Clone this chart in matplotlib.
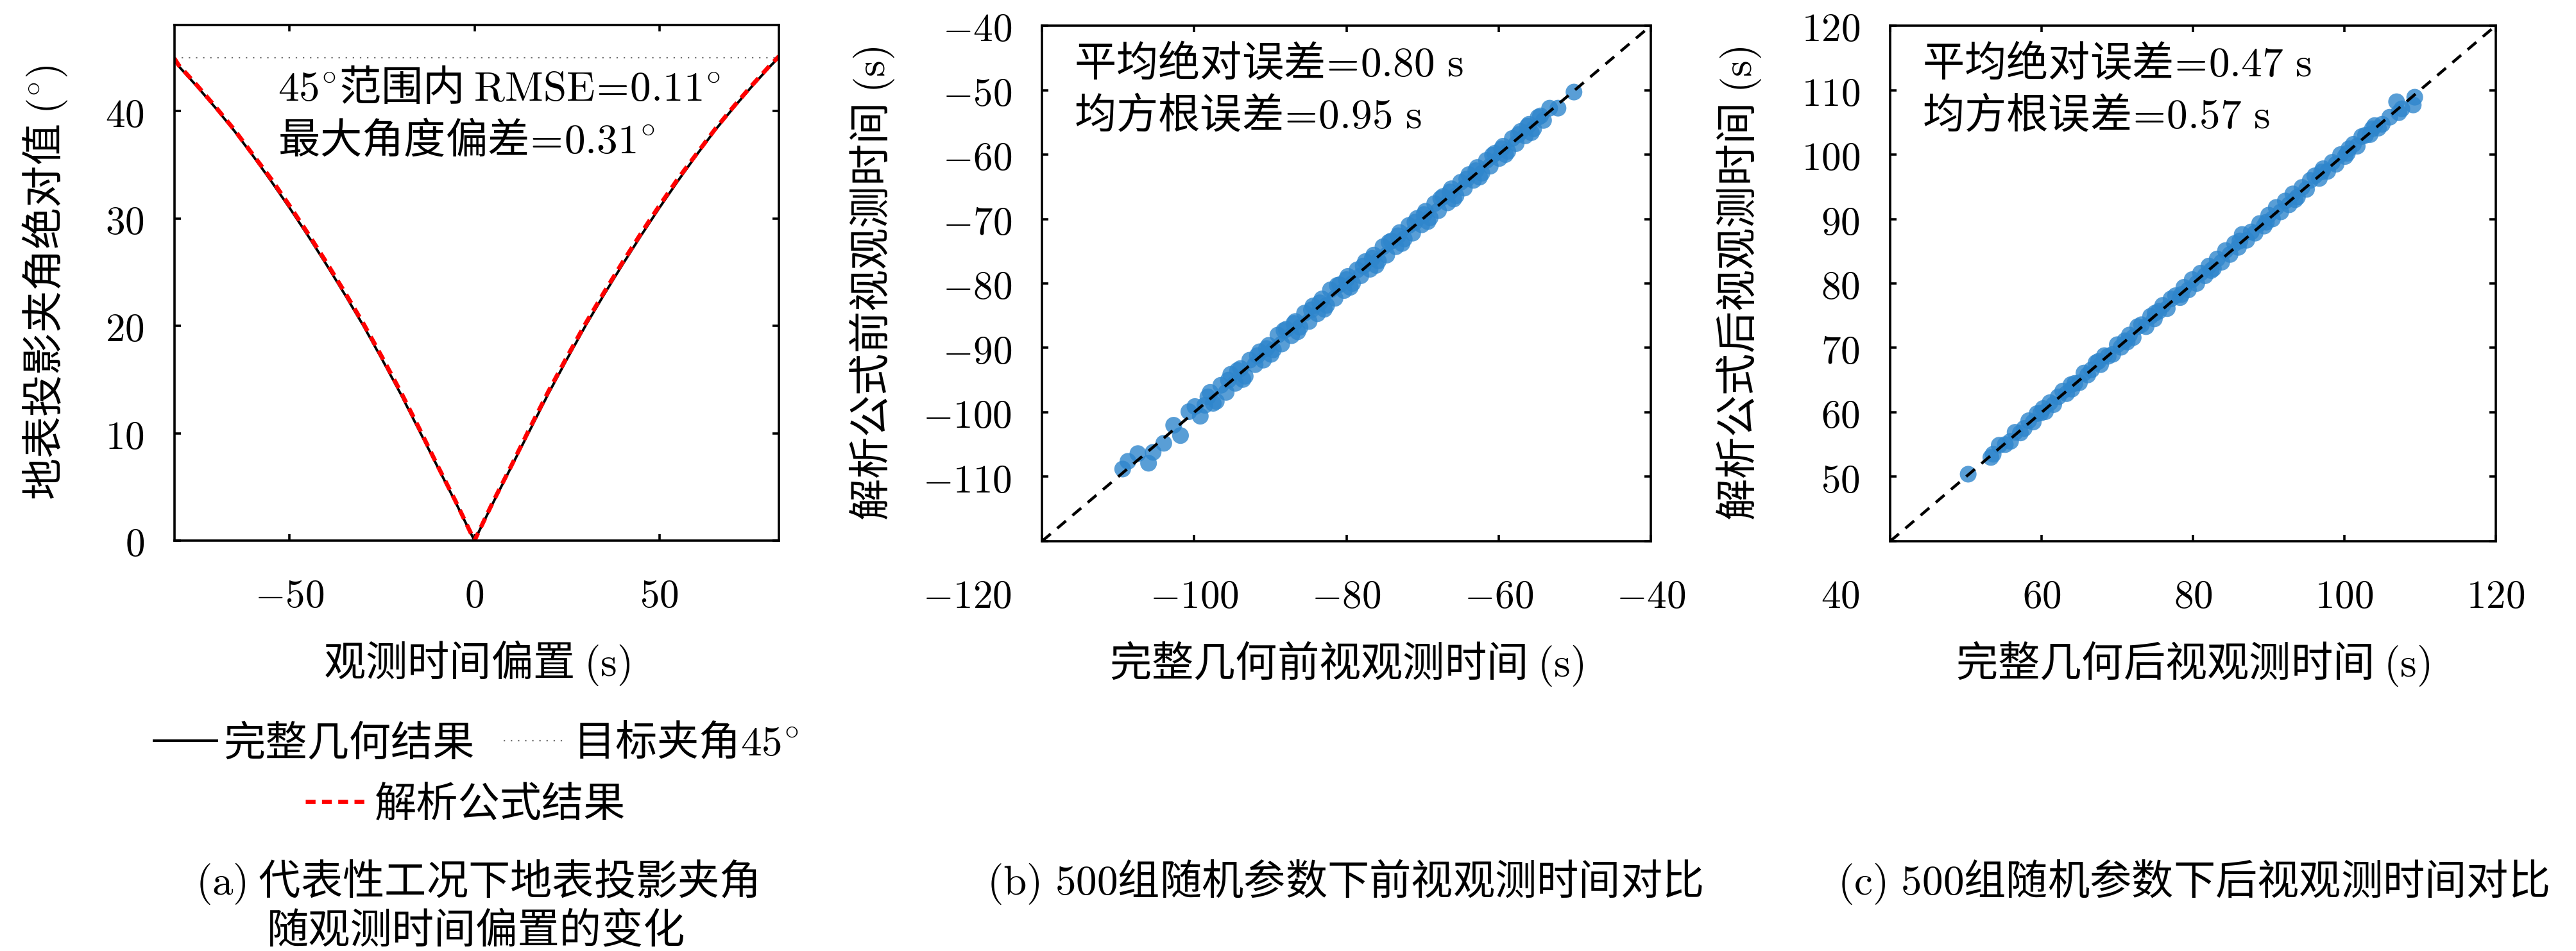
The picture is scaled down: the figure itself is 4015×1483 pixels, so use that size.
import matplotlib.pyplot as plt
from matplotlib.ticker import FuncFormatter

plt.rcParams['font.family'] = ['Noto Sans CJK SC', 'DejaVu Sans']
plt.rcParams['mathtext.fontset'] = 'cm'
plt.rcParams['font.size'] = 23.5
plt.rcParams['axes.linewidth'] = 1.3

# (a) angle vs observation time offset
offset_s = [-81.1, -80, -75, -70, -65, -60, -55, -50, -45, -40, -35, -30, -25, -20, -15, -10, -5, 0,
            5, 10, 15, 20, 25, 30, 35, 40, 45, 50, 55, 60, 65, 70, 75, 80, 82.3]
angle_full = [44.8, 44.2, 42.3, 40.3, 38.2, 35.9, 33.5, 31.0, 28.4, 25.7, 22.9, 20.0, 16.9, 13.7, 10.3, 6.9, 3.5, 0.0,
              3.5, 6.9, 10.3, 13.7, 16.9, 20.0, 22.9, 25.7, 28.4, 31.0, 33.5, 35.9, 38.2, 40.3, 42.3, 44.2, 45.0]
angle_formula = [44.9, 44.3, 42.4, 40.4, 38.3, 36.0, 33.7, 31.2, 28.6, 25.9, 23.1, 20.2, 17.1, 13.9, 10.5, 7.0, 3.6, 0.0,
                 3.6, 7.0, 10.5, 13.9, 17.1, 20.2, 23.1, 25.9, 28.6, 31.2, 33.7, 36.0, 38.3, 40.4, 42.4, 44.3, 45.1]
target_angle = 45

# (b) forward-looking observation time: full geometry vs formula
fwd_full = [-109.4, -108.7, -107.4, -106.0, -105.4, -104.0, -102.7, -101.8, -100.7, -99.2,
            -98.6, -97.9, -97.1, -96.5, -95.8, -95.2, -94.6, -93.9, -93.3, -92.7,
            -92.0, -91.4, -90.9, -90.2, -89.6, -89.0, -88.5, -87.9, -87.2, -86.7,
            -86.1, -85.5, -84.9, -84.4, -83.8, -83.2, -82.6, -82.1, -81.5, -80.9,
            -80.3, -79.8, -79.2, -78.6, -78.1, -77.5, -76.9, -76.4, -75.8, -75.2,
            -74.7, -74.1, -73.5, -73.0, -72.4, -71.8, -71.3, -70.7, -70.1, -69.6,
            -69.0, -68.4, -67.9, -67.3, -66.7, -66.2, -65.6, -65.0, -64.5, -63.9,
            -63.3, -62.8, -62.2, -61.6, -61.1, -60.5, -59.9, -59.4, -58.8, -58.2,
            -57.7, -57.1, -56.5, -56.0, -55.4, -54.8, -54.1, -53.3, -52.2, -50.1,
            -99.9, -97.5, -95.5, -93.6, -91.7, -89.9, -88.2, -86.4, -84.6, -82.9,
            -81.2, -79.5, -77.8, -76.1, -74.4, -72.7, -71.0, -69.3, -67.6, -65.9,
            -64.2, -62.5, -60.8, -59.1, -57.4, -55.7, -98.2, -94.3, -90.5, -86.9,
            -83.5, -80.0, -76.6, -73.2, -69.8, -66.4, -63.0, -59.6, -56.2, -54.5]
fwd_formula = [-108.8, -107.6, -106.4, -107.9, -106.2, -104.8, -102.0, -103.6, -99.9, -100.6,
               -98.9, -96.9, -98.3, -95.8, -96.9, -94.1, -95.5, -93.2, -94.4, -91.9,
               -92.6, -90.6, -91.9, -89.6, -90.3, -88.0, -89.4, -87.1, -88.1, -85.9,
               -86.8, -84.6, -85.9, -83.5, -84.7, -82.4, -83.4, -81.0, -82.3, -80.2,
               -81.1, -78.9, -80.0, -77.9, -78.8, -76.6, -77.8, -75.6, -76.5, -74.3,
               -75.6, -73.4, -74.3, -72.1, -73.1, -71.0, -72.2, -69.9, -70.9, -68.8,
               -69.8, -67.6, -68.7, -66.5, -67.5, -65.3, -66.4, -64.3, -65.2, -63.1,
               -64.0, -62.0, -62.9, -60.9, -61.8, -59.8, -60.6, -58.7, -59.5, -57.5,
               -58.3, -56.4, -57.1, -55.3, -56.0, -54.2, -54.7, -52.8, -52.8, -50.3,
               -99.1, -98.6, -95.0, -94.9, -91.2, -91.0, -87.3, -87.5, -84.1, -84.0,
               -80.3, -80.6, -77.3, -77.2, -73.6, -73.8, -70.5, -70.4, -66.8, -66.9,
               -63.8, -63.5, -60.1, -60.0, -56.9, -56.6, -97.6, -93.5, -90.1, -86.2,
               -83.0, -79.4, -76.1, -72.6, -69.3, -65.8, -62.5, -59.1, -55.6, -54.0]

# (c) backward-looking observation time: full geometry vs formula
bwd_full = [50.3, 53.3, 53.6, 54.4, 55.2, 55.9, 56.5, 57.2, 57.7, 58.3,
            58.9, 59.4, 59.9, 60.5, 61.1, 61.6, 62.2, 62.8, 63.3, 63.9,
            64.4, 65.0, 65.6, 66.1, 66.6, 67.2, 67.8, 68.3, 68.8, 69.4,
            70.0, 70.5, 71.0, 71.6, 72.1, 72.7, 73.2, 73.8, 74.4, 74.9,
            75.5, 76.0, 76.6, 77.1, 77.7, 78.3, 78.8, 79.4, 79.9, 80.5,
            81.0, 81.6, 82.1, 82.7, 83.2, 83.8, 84.3, 84.9, 85.5, 86.0,
            86.5, 87.1, 87.7, 88.2, 88.8, 89.4, 90.0, 90.5, 91.0, 91.6,
            92.2, 92.7, 93.2, 93.8, 94.4, 95.0, 95.5, 96.1, 96.7, 97.2,
            97.8, 98.4, 98.9, 99.5, 100.1, 100.6, 101.2, 101.7, 102.3, 102.8,
            103.4, 104.0, 104.5, 105.0, 106.9, 107.2, 107.6, 109.3, 109.1,
            60.2, 64.0, 67.5, 71.3, 75.0, 78.5, 82.4, 86.2, 89.7, 93.5,
            97.0, 100.4, 103.7, 106.0]
bwd_formula = [50.4, 53.0, 53.5, 54.9, 55.0, 55.5, 56.9, 56.8, 57.5, 58.7,
               58.5, 59.8, 59.9, 60.1, 61.5, 61.2, 62.4, 63.3, 62.9, 64.3,
               64.5, 64.6, 66.1, 65.8, 66.6, 67.7, 67.4, 68.8, 68.7, 69.0,
               70.5, 70.1, 71.1, 72.0, 71.6, 73.3, 73.6, 73.3, 74.9, 74.5,
               75.7, 76.6, 76.1, 77.6, 78.1, 77.8, 79.4, 79.0, 80.6, 80.0,
               81.6, 81.2, 82.7, 82.3, 83.8, 83.3, 85.1, 84.5, 86.2, 85.6,
               87.6, 86.7, 88.0, 87.8, 89.3, 88.9, 90.6, 90.0, 91.8, 91.1,
               92.8, 92.2, 93.9, 93.4, 94.9, 94.6, 96.0, 96.7, 96.3, 97.8,
               97.4, 98.8, 98.5, 100.0, 99.7, 100.9, 101.6, 101.3, 102.8, 103.0,
               103.1, 104.5, 104.1, 104.7, 108.2, 106.5, 107.1, 108.9, 107.7,
               60.6, 63.6, 67.9, 70.9, 75.4, 78.3, 82.0, 86.6, 89.5, 93.0,
               97.3, 100.2, 104.0, 105.8]

fwd_ticks = [-120, -110, -100, -90, -80, -70, -60, -50, -40]
bwd_ticks = [40, 50, 60, 70, 80, 90, 100, 110, 120]

dot_color = '#2f86cc'
tick_fs = 22


def math_fmt(hide=None):
    def f(v, pos):
        if hide is not None and abs(v - hide) < 1e-9:
            return ''
        return f'${v:g}$'
    return FuncFormatter(f)


def style_axes(ax):
    ax.tick_params(direction='in', length=3.6, width=1.3, top=True, right=True,
                   labelsize=tick_fs)
    ax.tick_params(axis='x', pad=20)
    ax.tick_params(axis='y', pad=17)


fig = plt.figure(figsize=(20.08, 7.415), dpi=200)

# ---------- (a) ----------
ax1 = fig.add_axes([0.0677, 0.4315, 0.2346, 0.5420])
h_full, = ax1.plot(offset_s, angle_full, color='black', lw=1.4, label='完整几何结果')
h_target = ax1.axhline(target_angle, color='#707070', lw=0.8, ls=(0, (1, 4)), label=r'目标夹角$45^{\circ}$')
h_formula, = ax1.plot(offset_s, angle_formula, color='red', lw=2.4, dashes=(2.3, 1.5), label='解析公式结果')
ax1.set_xlim(-81.1, 82.3)
ax1.set_ylim(0, 48)
ax1.set_xticks([-50, 0, 50])
ax1.set_yticks([0, 10, 20, 30, 40])
ax1.xaxis.set_major_formatter(math_fmt())
ax1.yaxis.set_major_formatter(math_fmt())
style_axes(ax1)
ax1.set_xlabel(r'观测时间偏置 $(\mathrm{s})$', va='top')
ax1.set_ylabel(r'地表投影夹角绝对值 $(^{\circ})$')
ax1.xaxis.set_label_coords(0.5, -0.19)
ax1.yaxis.set_label_coords(-0.174, 0.5)
ax1.text(0.171, 0.854, r'$45^{\circ}$范围内 $\mathrm{RMSE}\!=\!0.11^{\circ}$', transform=ax1.transAxes,
         ha='left', va='baseline')
ax1.text(0.171, 0.751, r'最大角度偏差$\!=\!0.31^{\circ}$', transform=ax1.transAxes,
         ha='left', va='baseline')

leg_kw = dict(loc='center', frameon=False, handlelength=1.5, handletextpad=0.15,
              columnspacing=0.7, borderpad=0, borderaxespad=0)
fig.legend(handles=[h_full, h_target], ncol=2, bbox_to_anchor=(0.1848, 0.2178), **leg_kw)
fig.legend(handles=[h_formula], bbox_to_anchor=(0.1807, 0.1537), **leg_kw)

# ---------- (b) / (c) ----------
panels = [
    ([0.4044, 0.4309, 0.2363, 0.5421], fwd_full, fwd_formula, fwd_ticks,
     '完整几何前视观测时间', '解析公式前视观测时间', '0.80', '0.95', -0.239),
    ([0.7336, 0.4309, 0.2350, 0.5421], bwd_full, bwd_formula, bwd_ticks,
     '完整几何后视观测时间', '解析公式后视观测时间', '0.47', '0.57', -0.210),
]
for rect, xs, ys, ticks, xl, yl, mae, rmse, ylx in panels:
    ax = fig.add_axes(rect)
    lo, hi = ticks[0], ticks[-1]
    ax.scatter(xs, ys, s=88, color=dot_color, alpha=0.8, edgecolors='none', zorder=2)
    ax.plot([lo, hi], [lo, hi], color='black', lw=1.6, dashes=(4, 3), zorder=3)
    ax.set_xlim(lo, hi)
    ax.set_ylim(lo, hi)
    ax.set_xticks(ticks[::2])
    ax.set_yticks(ticks)
    ax.xaxis.set_major_formatter(math_fmt(hide=lo))
    ax.yaxis.set_major_formatter(math_fmt(hide=lo))
    style_axes(ax)
    ax.annotate(f'${lo:g}$', xy=(0, 0), xycoords='axes fraction', xytext=(-17, -20),
                textcoords='offset points', ha='right', va='top', fontsize=tick_fs)
    ax.set_xlabel(xl + r' $(\mathrm{s})$', va='top')
    ax.set_ylabel(yl + r' $(\mathrm{s})$')
    ax.xaxis.set_label_coords(0.5, -0.19)
    ax.yaxis.set_label_coords(ylx, 0.5)
    ax.text(0.053, 0.902, r'平均绝对误差$\!=\!' + mae + r'\ \mathrm{s}$', transform=ax.transAxes,
            ha='left', va='baseline')
    ax.text(0.053, 0.801, r'均方根误差$\!=\!' + rmse + r'\ \mathrm{s}$', transform=ax.transAxes,
            ha='left', va='baseline')

# ---------- captions ----------
fig.text(0.1848, 0.0728, r'$\mathrm{(a)}$ 代表性工况下地表投影夹角', ha='center', va='center')
fig.text(0.1848, 0.0209, '随观测时间偏置的变化', ha='center', va='center')
fig.text(0.5219, 0.0728, r'$\mathrm{(b)}\ 500$组随机参数下前视观测时间对比', ha='center', va='center')
fig.text(0.8513, 0.0728, r'$\mathrm{(c)}\ 500$组随机参数下后视观测时间对比', ha='center', va='center')

fig.savefig('out.png', dpi=200)
